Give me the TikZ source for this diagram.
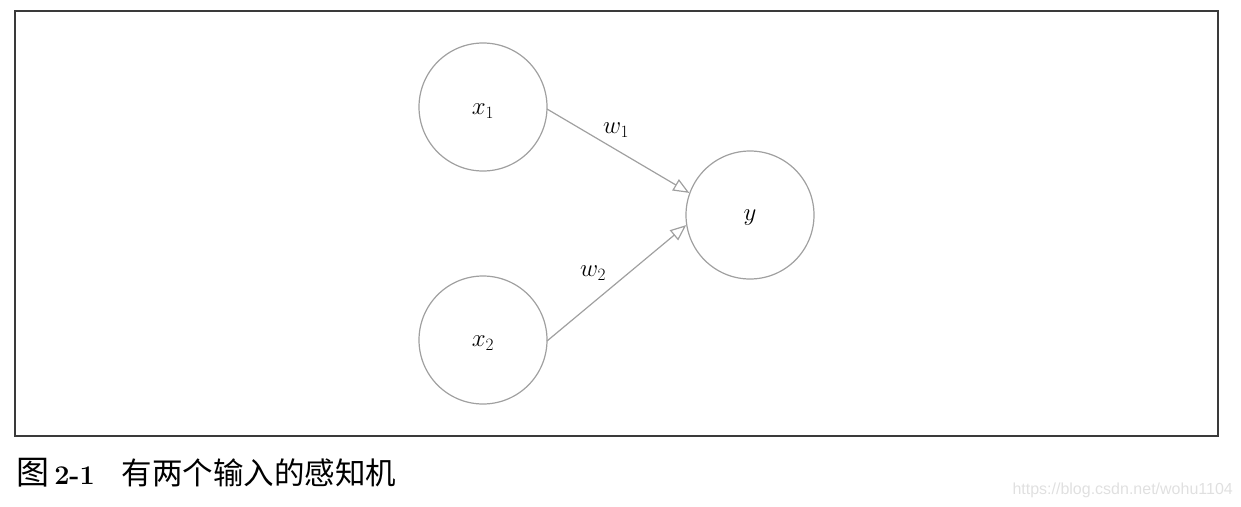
\documentclass[tikz,border=0pt]{standalone}
\usepackage{fontspec}
\newfontfamily\cjk{Noto Sans CJK SC}
\newfontfamily\wm{Liberation Sans}
\usetikzlibrary{arrows.meta}
\definecolor{cgray}{HTML}{A0A0A0}
\definecolor{fgray}{HTML}{3A3A3A}
\begin{document}
\begin{tikzpicture}[x=1pt,y=-1pt,
  neuron/.style={circle,draw=cgray,line width=1.2pt,minimum size=128pt,inner sep=0pt},
  conn/.style={draw=cgray,line width=1.2pt,-{Triangle[open,length=16pt,width=13pt]}},
  wlabel/.style={font=\fontsize{24}{24}\selectfont}]
\useasboundingbox (0,0) rectangle (1241,506);
\draw[fgray,line width=1.4pt] (15,11) rectangle (1218,436);
\node[neuron] (x1) at (483,107) {};
\node[neuron] (x2) at (483,340) {};
\node[neuron] (y) at (750,215) {};
\node[wlabel] (t1) at (483,111) {$x_1$};
\node[wlabel] (t2) at (483,343) {$x_2$};
\node[wlabel] (ty) at (750,218) {$y$};
\coordinate (s1) at (547,109);
\coordinate (s2) at (547,341);
\draw[conn] (s1) -- (y.160);
\draw[conn] (s2) -- (y.189);
\node[wlabel] (w1) at (616,130) {$w_1$};
\node[wlabel] (w2) at (593,273) {$w_2$};
\node[anchor=base west,inner sep=0pt,font=\fontsize{30.5}{31}\selectfont] (cap) at (16,484)
  {{\cjk\fontsize{33}{33}\selectfont 图}\,\textbf{\fontsize{27}{27}\selectfont 2-1}\hspace{27pt}{\cjk 有两个输入的感知机}};
\node[anchor=base east,inner sep=0pt,text=black!12,font=\wm\fontsize{16}{16}\selectfont] (wmk) at (1233,494) {https://blog.csdn.net/wohu1104};
\end{tikzpicture}
\end{document}
